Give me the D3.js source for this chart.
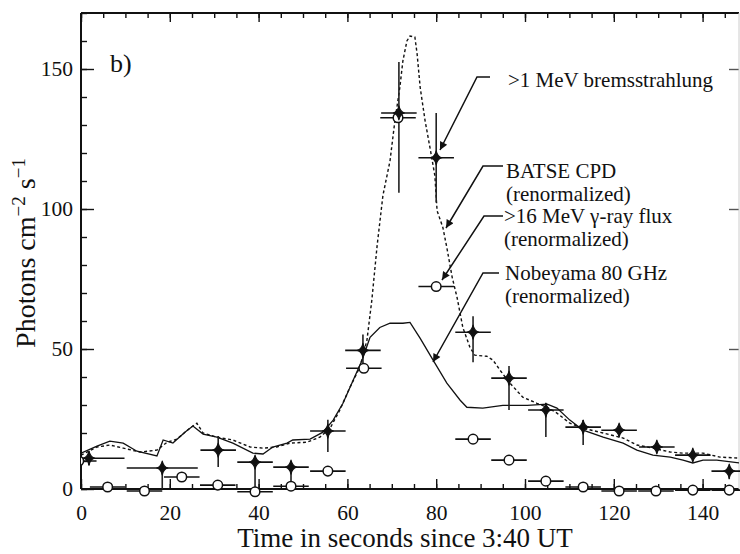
<!DOCTYPE html>
<html><head><meta charset="utf-8">
<script src="https://cdn.jsdelivr.net/npm/d3@7"></script>
<style>
body{margin:0;background:#fff}
text{font-family:"Liberation Serif","Times New Roman",serif;fill:#111}
</style>
</head><body>
<svg id="c" width="740" height="554"></svg>
<script>
// ---- data ----
// >1 MeV bremsstrahlung (filled diamonds)
const bremsTime = [1.8, 18.3, 30.9, 39.2, 47.3, 55.6, 63.5, 71.6, 80.0, 88.3, 96.4, 104.7, 113.1, 121.2, 129.7, 137.8, 146.0];
const bremsFlux = [11.0, 7.5, 13.9, 9.6, 7.8, 20.7, 49.5, 134.3, 118.3, 56.0, 39.6, 28.2, 22.1, 21.0, 15.0, 12.1, 6.4];
const bremsErrUp = [2.5, 1.0, 5.0, 2.0, 2.1, 4.0, 5.7, 18.2, 16.0, 5.7, 4.3, 2.5, 2.5, 2.0, 1.8, 1.8, 1.8];
const bremsErrDown = [2.5, 7.5, 6.0, 9.6, 5.3, 7.5, 5.7, 28.5, 16.0, 10.7, 11.4, 9.6, 6.4, 2.0, 1.8, 1.8, 2.9];
const bremsHalfBin = [8, 8, 4, 4, 4, 4, 4, 4, 4, 4, 4, 4, 4, 4, 4, 4, 4];
// >16 MeV gamma-ray flux, renormalized (open circles)
const gammaTime = [-0.5, 6.0, 14.3, 22.7, 30.8, 39.2, 47.3, 55.6, 63.7, 71.4, 80.0, 88.3, 96.4, 104.7, 113.1, 121.2, 129.5, 137.8, 146.0];
const gammaFlux = [10.0, 0.7, -0.7, 4.3, 1.4, -1.0, 1.0, 6.4, 43.1, 132.6, 72.3, 17.8, 10.3, 2.8, 0.7, -0.7, -0.7, -0.4, -0.4];
const gammaHalfBin = 4;
// BATSE CPD, renormalized (dashed)
const batseTime = [0, 3.6, 6.5, 9.5, 13.3, 17.1, 19.4, 21.6, 24.5, 26.1, 27.5, 30.6, 34.2, 38.1, 41.0, 44.1, 47.1, 50.9, 53.8, 56.1, 58.3, 60.6, 62.8, 64.4, 65.5, 66.7, 68.0, 69.6, 70.7, 71.8, 72.5, 73.4, 74.1, 75.2, 75.7, 76.4, 77.5, 78.6, 79.7, 80.2, 81.5, 82.4, 83.6, 84.7, 86.0, 87.6, 88.7, 91.4, 92.8, 94.4, 96.6, 99.5, 102.7, 105.0, 107.2, 110.1, 113.1, 117.6, 122.1, 125.2, 128.8, 132.7, 135.6, 140.1, 143.9, 148.4];
const batseFlux = [12.1, 15.0, 15.7, 14.6, 13.2, 13.9, 16.7, 17.8, 21.7, 23.5, 20.0, 18.5, 17.5, 15.0, 14.6, 15.0, 16.4, 16.7, 18.5, 21.7, 28.2, 36.4, 43.5, 53.1, 67.4, 87.0, 104.8, 117.2, 131.5, 143.3, 152.9, 160.0, 161.8, 161.4, 155.4, 143.3, 131.5, 121.9, 111.9, 99.4, 93.4, 86.2, 75.6, 68.4, 57.7, 50.6, 47.8, 47.4, 46.0, 42.4, 37.8, 32.8, 30.6, 29.2, 27.1, 23.5, 21.7, 20.0, 18.2, 15.7, 14.6, 13.2, 12.8, 12.8, 11.4, 11.0];
// Nobeyama 80 GHz, renormalized (solid)
const nobeTime = [0, 3.6, 6.5, 9.5, 12.6, 17.1, 18.5, 20.7, 23.4, 25.2, 27.5, 30.6, 34.2, 38.7, 41.0, 43.2, 46.4, 47.7, 51.6, 54.5, 56.8, 59.0, 61.3, 63.3, 65.1, 67.3, 69.6, 72.5, 74.1, 76.4, 79.3, 82.4, 85.4, 86.9, 90.5, 95.0, 100.5, 105.0, 107.2, 110.1, 113.1, 117.6, 122.1, 125.2, 128.8, 132.7, 135.6, 137.8, 140.1, 143.2, 148.4];
const nobeFlux = [12.8, 15.3, 17.1, 16.4, 13.5, 11.8, 17.5, 16.4, 20.3, 22.5, 19.6, 18.5, 16.4, 12.8, 12.5, 15.0, 16.4, 17.5, 17.8, 20.3, 24.6, 30.6, 38.8, 46.0, 54.2, 57.7, 59.2, 59.2, 59.5, 53.8, 46.0, 37.8, 31.7, 29.2, 28.9, 29.9, 29.9, 30.3, 28.9, 24.6, 21.0, 18.5, 16.4, 13.9, 12.1, 11.4, 10.3, 9.3, 10.3, 10.3, 9.3];
// axis ticks
const xMajorTicks = [0, 20, 40, 60, 80, 100, 120, 140];
const yMajorTicks = [0, 50, 100, 150];

// ---- layout ----
const svg = d3.select("#c");
const L = 81, R = 739, T = 13, B = 489;
const x = d3.scaleLinear([0, 148.2], [L, R]);
const y = d3.scaleLinear([0, 170], [B, T]);
const xMinor = d3.range(0, 148.2, 5);
const yMinor = d3.range(0, 171, 10);

const defs = svg.append("defs");
defs.append("clipPath").attr("id", "clipL").append("rect")
  .attr("x", L).attr("y", T).attr("width", R - L).attr("height", B - T);
defs.append("clipPath").attr("id", "clipM").append("rect")
  .attr("x", L).attr("y", 0).attr("width", 800).attr("height", B + 12);
defs.append("marker").attr("id", "ah").attr("viewBox", "0 0 10 10")
  .attr("refX", 10).attr("refY", 5).attr("markerUnits", "userSpaceOnUse")
  .attr("markerWidth", 14).attr("markerHeight", 8).attr("orient", "auto")
  .append("path").attr("d", "M0,0 L10,5 L0,10 z").attr("fill", "#111");

function styleAxis(g) {
  g.select(".domain").remove();
  g.selectAll("line").attr("stroke", "#111").attr("stroke-width", 1.4);
  g.selectAll("text").attr("font-family", "Liberation Serif, serif").attr("font-size", 21.5).attr("fill", "#111");
}
// bottom
svg.append("g").attr("transform", `translate(0,${B})`)
  .call(d3.axisBottom(x).tickValues(xMinor).tickSize(-5).tickFormat(""))
  .call(styleAxis);
svg.append("g").attr("transform", `translate(0,${B})`)
  .call(d3.axisBottom(x).tickValues(xMajorTicks).tickSize(-10).tickPadding(16).tickFormat(d3.format("d")))
  .call(styleAxis);
// top
svg.append("g").attr("transform", `translate(0,${T})`)
  .call(d3.axisTop(x).tickValues(xMinor).tickSize(-5).tickFormat("")).call(styleAxis);
svg.append("g").attr("transform", `translate(0,${T})`)
  .call(d3.axisTop(x).tickValues(xMajorTicks).tickSize(-9).tickFormat("")).call(styleAxis);
// left
svg.append("g").attr("transform", `translate(${L},0)`)
  .call(d3.axisLeft(y).tickValues(yMinor).tickSize(-6).tickFormat("")).call(styleAxis);
svg.append("g").attr("transform", `translate(${L},0)`)
  .call(d3.axisLeft(y).tickValues(yMajorTicks).tickSize(-13).tickPadding(8).tickFormat(d3.format("d")))
  .call(styleAxis);
// right (faint in the scan)
const rg = svg.append("g").attr("transform", `translate(${R},0)`)
  .call(d3.axisRight(y).tickValues(yMajorTicks).tickSize(-10).tickFormat("")).call(styleAxis);
rg.selectAll("line").attr("stroke", "#555");

// frame
svg.append("path").attr("d", `M${L},${T}H${R}`).attr("stroke", "#111").attr("stroke-width", 2);
svg.append("path").attr("d", `M${L},${B}H${R}`).attr("stroke", "#111").attr("stroke-width", 2);
svg.append("path").attr("d", `M${L},${T}V${B}`).attr("stroke", "#111").attr("stroke-width", 2);
svg.append("path").attr("d", `M${R},${T}V${B}`).attr("stroke", "#ccc").attr("stroke-width", 1);

// curves
const line = d3.line().x(d => x(d[0])).y(d => y(d[1]));
const gl = svg.append("g").attr("clip-path", "url(#clipL)");
gl.append("path").datum(d3.zip(nobeTime, nobeFlux)).attr("d", line)
  .attr("fill", "none").attr("stroke", "#111").attr("stroke-width", 1.3);
gl.append("path").datum(d3.zip(batseTime, batseFlux)).attr("d", line)
  .attr("fill", "none").attr("stroke", "#111").attr("stroke-width", 1.4).attr("stroke-dasharray", "3,2.5");

// points
const gm = svg.append("g").attr("clip-path", "url(#clipM)");
gammaTime.forEach((t, i) => {
  gm.append("line").attr("x1", x(t - gammaHalfBin)).attr("x2", x(t + gammaHalfBin))
    .attr("y1", y(gammaFlux[i])).attr("y2", y(gammaFlux[i]))
    .attr("stroke", "#111").attr("stroke-width", 1.6);
});
bremsTime.forEach((t, i) => {
  gm.append("line").attr("x1", x(t - bremsHalfBin[i])).attr("x2", x(t + bremsHalfBin[i]))
    .attr("y1", y(bremsFlux[i])).attr("y2", y(bremsFlux[i]))
    .attr("stroke", "#111").attr("stroke-width", 1.6);
  gm.append("line").attr("x1", x(t)).attr("x2", x(t))
    .attr("y1", y(bremsFlux[i] + bremsErrUp[i])).attr("y2", y(Math.max(bremsFlux[i] - bremsErrDown[i], -0.5)))
    .attr("stroke", "#222").attr("stroke-width", 1.6);
});
gm.selectAll("circle.g").data(d3.zip(gammaTime, gammaFlux)).join("circle")
  .attr("cx", d => x(d[0])).attr("cy", d => y(d[1])).attr("r", 4.8)
  .attr("fill", "#fff").attr("stroke", "#111").attr("stroke-width", 1.5);
// filled diamond marker (slightly concave, like the printed symbol)
const diamondPath = "M0,-7 Q1.2,-1.2 5.5,0 Q1.2,1.2 0,7 Q-1.2,1.2 -5.5,0 Q-1.2,-1.2 0,-7Z";
gm.selectAll("path.b").data(d3.zip(bremsTime, bremsFlux)).join("path")
  .attr("d", diamondPath).attr("transform", d => `translate(${x(d[0])},${y(d[1])})`)
  .attr("fill", "#111").attr("stroke", "#111").attr("stroke-width", 1.2).attr("stroke-linejoin", "round");

// annotations
const ann = [
  {lines: [">1 MeV bremsstrahlung"], tx: 508, ty: 87, ax: 477, ay: 77, dx: 490, tipx: 440, tipy: 150},
  {lines: ["BATSE CPD", "(renormalized)"], tx: 506, ty: 178, ax: 483, ay: 166, dx: 503, tipx: 446, tipy: 228},
  {lines: [">16 MeV γ-ray flux", "(renormalized)"], tx: 504, ty: 223, ax: 484, ay: 216, dx: 503, tipx: 442, tipy: 280},
  {lines: ["Nobeyama 80 GHz", "(renormalized)"], tx: 505, ty: 280, ax: 483, ay: 273, dx: 499, tipx: 433, tipy: 362}
];
ann.forEach(a => {
  svg.append("path").attr("d", `M${a.dx},${a.ay}H${a.ax}L${a.tipx},${a.tipy}`)
    .attr("fill", "none").attr("stroke", "#111").attr("stroke-width", 1.5).attr("marker-end", "url(#ah)");
  a.lines.forEach((s, k) => svg.append("text").attr("x", a.tx).attr("y", a.ty + k * 22.5)
    .attr("font-size", 21).text(s));
});
svg.append("text").attr("x", 110).attr("y", 72).attr("font-size", 26).text("b)");

// axis titles
svg.append("text").attr("x", 405).attr("y", 547).attr("text-anchor", "middle")
  .attr("font-size", 27).text("Time in seconds since 3:40 UT");
const yt = svg.append("text").attr("transform", "translate(35,253) rotate(-90)")
  .attr("text-anchor", "middle").attr("font-size", 28);
yt.append("tspan").text("Photons cm");
yt.append("tspan").attr("dy", -10).attr("font-size", 19).text("−2");
yt.append("tspan").attr("dy", 10).text(" s");
yt.append("tspan").attr("dy", -10).attr("font-size", 19).text("−1");
</script>
</body></html>
